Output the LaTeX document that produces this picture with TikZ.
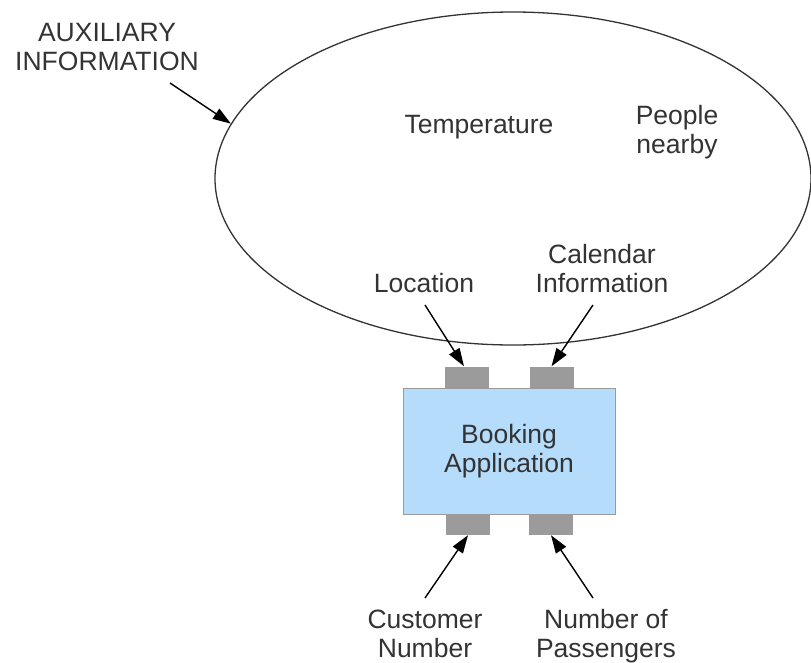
\documentclass[tikz,border=0pt]{standalone}
\usepackage{fontspec}
\setmainfont{Liberation Sans}
\usetikzlibrary{shapes.geometric,arrows.meta}
\definecolor{inkgray}{HTML}{333333}
\definecolor{appblue}{HTML}{B5DCFA}
\definecolor{boxedge}{HTML}{9A9A9A}
\definecolor{portgray}{HTML}{9B9B9B}
\begin{document}
\begin{tikzpicture}[x=1pt,y=-1pt,
  lbl/.style={font=\fontsize{26.5}{28.5}\selectfont, text=inkgray, align=center, inner sep=0pt, anchor=base},
  ptr/.style={draw=black, line width=1.4pt, -{Triangle[length=18pt,width=12pt]}},
  port/.style={draw=none, fill=portgray, minimum width=44pt, minimum height=21pt, inner sep=0pt},
  app/.style={draw=boxedge, line width=0.8pt, fill=appblue, minimum width=212pt, minimum height=126pt, inner sep=0pt}]
  \useasboundingbox (0,0) rectangle (811,662);

  % context ellipse
  \node[ellipse, draw=inkgray, line width=1.3pt, minimum width=596pt, minimum height=333pt, inner sep=0pt] (ell) at (513,178.5) {};

  % labels (base anchor sits on the last line's baseline)
  \node[lbl] (aux) at (107,70) {AUXILIARY\\INFORMATION};
  \node[lbl] (temp) at (479,133) {Temperature};
  \node[lbl] (people) at (677,153) {People\\nearby};
  \node[lbl] (loc) at (424,292) {Location};
  \node[lbl] (cal) at (602,292) {Calendar\\Information};
  \node[lbl] (cust) at (425,657) {Customer\\Number};
  \node[lbl] (pass) at (606,657) {Number of\\Passengers};

  % application with ports
  \node[app] (appbox) at (509,451) {};
  \node[lbl] (applbl) at (509,472) {Booking\\Application};
  \node[port] (pl) at (467,377) {};
  \node[port] (pr) at (551.5,377) {};
  \node[port] (pbl) at (468,524.5) {};
  \node[port] (pbr) at (551,524.5) {};

  % arrow tails
  \coordinate (auxtail) at (170,83);
  \coordinate (loctail) at (425,305);
  \coordinate (caltail) at (593,305);
  \coordinate (custtail) at (425,598);
  \coordinate (passtail) at (593,598);

  \draw[ptr] (auxtail) -- (ell.169);
  \draw[ptr] (loctail) -- ([xshift=-3pt]pl.north);
  \draw[ptr] (caltail) -- (pr.north);
  \draw[ptr] (custtail) -- (pbl.south);
  \draw[ptr] (passtail) -- (pbr.south);
\end{tikzpicture}
\end{document}
